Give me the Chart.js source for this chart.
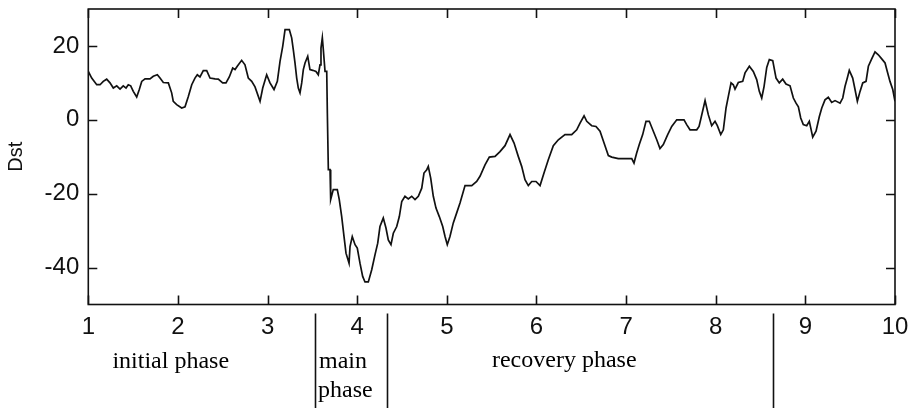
<!DOCTYPE html>
<html>
<head>
<meta charset="utf-8">
<script src="https://cdn.jsdelivr.net/npm/chart.js@4/dist/chart.umd.min.js"></script>
<style>
  html, body { margin: 0; padding: 0; background: #fff; }
  #wrap { width: 909px; height: 408px; }
</style>
</head>
<body>
<div id="wrap"><canvas id="dst" width="909" height="408"></canvas></div>
<script>
// Storm time axis (days) and Dst index values
const days = [
  1.000,1.038,1.094,1.131,1.167,1.205,1.242,1.279,1.317,1.354,
  1.390,1.421,1.446,1.473,1.502,1.540,1.569,1.596,1.633,1.688,
  1.725,1.770,1.800,1.837,1.893,1.930,1.948,1.986,2.042,2.079,
  2.116,2.154,2.190,2.216,2.246,2.283,2.321,2.358,2.414,2.450,
  2.499,2.536,2.573,2.611,2.637,2.662,2.711,2.748,2.785,2.823,
  2.860,2.916,2.946,2.990,3.027,3.072,3.109,3.139,3.169,3.195,
  3.243,3.269,3.287,3.306,3.325,3.343,3.362,3.381,3.399,3.418,
  3.448,3.473,3.504,3.540,3.566,3.585,3.596,3.611,3.622,3.641,
  3.660,3.667,3.678,3.697,3.704,3.733,3.778,3.800,3.827,3.853,
  3.875,3.909,3.920,3.945,3.976,4.001,4.031,4.061,4.087,4.124,
  4.162,4.199,4.229,4.254,4.291,4.321,4.347,4.377,4.403,4.441,
  4.470,4.497,4.533,4.570,4.608,4.645,4.682,4.720,4.745,4.776,
  4.793,4.820,4.849,4.879,4.916,4.954,4.980,5.005,5.035,5.072,
  5.110,5.147,5.203,5.278,5.333,5.370,5.426,5.474,5.538,5.593,
  5.649,5.705,5.750,5.797,5.835,5.872,5.909,5.947,5.995,6.040,
  6.084,6.132,6.188,6.244,6.318,6.393,6.449,6.486,6.531,6.561,
  6.616,6.664,6.709,6.754,6.802,6.840,6.913,6.988,7.063,7.088,
  7.118,7.147,7.185,7.222,7.259,7.297,7.342,7.378,7.415,7.464,
  7.509,7.565,7.646,7.676,7.713,7.788,7.814,7.836,7.881,7.917,
  7.955,7.992,8.018,8.056,8.085,8.115,8.140,8.171,8.196,8.215,
  8.252,8.301,8.327,8.375,8.419,8.457,8.486,8.513,8.539,8.569,
  8.598,8.636,8.673,8.709,8.747,8.784,8.829,8.866,8.896,8.922,
  8.948,8.977,9.015,9.044,9.060,9.082,9.119,9.156,9.183,9.219,
  9.256,9.294,9.331,9.387,9.417,9.442,9.468,9.490,9.528,9.554,
  9.580,9.610,9.640,9.677,9.703,9.740,9.777,9.814,9.852,9.889,
  9.914,9.944,9.975,10.000
];

const dstValues = [
  13.1,11.3,9.5,9.5,10.4,11,10,8.6,9.2,8.3,
  9.2,8.6,9.5,9.2,7.7,6.2,8.2,10.4,11.1,11.1,
  11.8,12.2,11.3,10.1,10,7.3,5,4.1,3.2,3.5,
  6.3,9.5,11.3,12.2,11.6,13.3,13.3,11.3,11.1,11,
  10,10,11.6,14,13.6,14.5,16.1,14.9,11.3,10.4,
  8.9,5,8.6,12.2,10,8.2,10.4,15.8,19.9,24.4,
  24.4,22.2,19,15.4,11.3,8.6,7.3,10,13.6,15.4,
  17.2,13.6,13.4,13.1,12.2,14.9,19.4,22.2,19,13.1,
  13.1,1.8,-13.5,-13.5,-21.6,-18.9,-18.9,-21.6,-26.2,-31.6,
  -36.1,-38.8,-34.3,-31.6,-33.8,-34.7,-38.8,-42.4,-43.9,-43.9,
  -40.6,-36.5,-33.4,-28.9,-26.6,-29.3,-32.5,-33.8,-30.7,-28.9,
  -26.2,-22.1,-20.7,-21.4,-20.7,-21.6,-20.7,-18.5,-14.4,-13.5,
  -12.6,-15.8,-20.7,-23.9,-26.2,-28.9,-31.6,-33.8,-31.6,-27.9,
  -25.2,-22.5,-17.8,-17.8,-16.7,-15.3,-12.2,-10.1,-9.9,-8.6,
  -7,-4,-6.3,-9.9,-12.6,-16.2,-17.8,-16.7,-16.7,-17.8,
  -14.4,-10.8,-7,-5.4,-4,-4,-2.7,-0.9,1.1,-0.4,
  -1.6,-1.8,-3.1,-6.3,-9.7,-10.1,-10.5,-10.5,-10.5,-11.7,
  -9,-6.7,-4,-0.4,-0.4,-2.7,-5.4,-7.8,-6.7,-4,
  -1.8,0,0,-1.3,-2.7,-2.7,-1.8,0.5,5.2,1.4,
  -1.6,-0.4,-1.6,-4,-2.7,3.2,6.3,10,9.5,8.3,
  10.1,10.4,12.7,14.5,13.1,10.9,7.7,5.9,9,14.2,
  16.3,16,11.3,10,11,9.7,9.2,5.9,4.5,3.5,
  0.5,-1.3,-1.6,-0.4,-2.2,-4.7,-3.1,0.9,3.2,5.4,
  6.1,4.7,5.2,4.5,5.9,9,11.3,13.4,11.3,8.2,
  5,7.7,10,10.4,14.5,16.5,18.4,17.6,16.5,15.4,
  13.1,10.4,8.2,5
];

// Axis ticks
const dayTicks = [1, 2, 3, 4, 5, 6, 7, 8, 9, 10];
const dstTicks = [-40, -20, 0, 20];

// Storm phases: boundaries (days) and their names
const phaseBounds = [3.529, 4.336, 8.642];
const phaseNames = ['initial phase', 'main phase', 'recovery phase'];

const points = days.map((d, i) => ({ x: d, y: dstValues[i] }));

const tickFont = { family: "'Liberation Sans', Arial, sans-serif", size: 24 };

// Boxed frame with inward tick marks, plus phase dividers and names under the axis
const frameAndPhases = {
  id: 'frameAndPhases',
  afterDraw(chart) {
    const { ctx, chartArea: a, scales: { x, y } } = chart;
    const TICK = 9;
    ctx.save();
    ctx.strokeStyle = '#111';
    ctx.lineWidth = 1.6;
    ctx.strokeRect(a.left, a.top, a.right - a.left, a.bottom - a.top);

    ctx.beginPath();
    x.ticks.forEach(t => {
      const px = Math.round(x.getPixelForValue(t.value)) + 0.5;
      ctx.moveTo(px, a.bottom); ctx.lineTo(px, a.bottom - TICK);
      ctx.moveTo(px, a.top); ctx.lineTo(px, a.top + TICK);
    });
    y.ticks.forEach(t => {
      const py = Math.round(y.getPixelForValue(t.value)) + 0.5;
      ctx.moveTo(a.left, py); ctx.lineTo(a.left + TICK, py);
      ctx.moveTo(a.right, py); ctx.lineTo(a.right - TICK, py);
    });
    ctx.stroke();

    // phase dividers
    ctx.beginPath();
    phaseBounds.forEach(b => {
      const px = Math.round(x.getPixelForValue(b)) + 0.5;
      ctx.moveTo(px, a.bottom + 9);
      ctx.lineTo(px, chart.height);
    });
    ctx.stroke();

    // phase names
    ctx.fillStyle = '#000';
    ctx.font = "24px 'Liberation Serif', 'Times New Roman', serif";
    ctx.textBaseline = 'alphabetic';
    const base = a.bottom + 63;

    // initial phase, under days 1.5-2.5
    ctx.textAlign = 'center';
    ctx.fillText(phaseNames[0], x.getPixelForValue(1.92), base);

    // main phase: narrow span, wrapped onto two lines next to the divider
    ctx.textAlign = 'left';
    const mainWords = phaseNames[1].split(' ');
    const mx = x.getPixelForValue(phaseBounds[0]) + 3;
    ctx.fillText(mainWords[0], mx + 1, base);
    ctx.fillText(mainWords[1], mx, base + 29);

    // recovery phase
    ctx.textAlign = 'center';
    ctx.fillText(phaseNames[2], x.getPixelForValue(6.31), base - 1);
    ctx.restore();
  }
};

new Chart(document.getElementById('dst'), {
  type: 'line',
  data: {
    datasets: [{
      data: points,
      borderColor: '#111',
      borderWidth: 1.7,
      pointRadius: 0,
      tension: 0,
      fill: false
    }]
  },
  options: {
    responsive: false,
    animation: false,
    events: [],
    layout: { padding: { left: 0, right: 14, top: 9, bottom: 0 } },
    plugins: { legend: { display: false }, tooltip: { enabled: false } },
    scales: {
      x: {
        type: 'linear',
        min: 1,
        max: 10,
        grid: { display: false, drawTicks: false },
        border: { display: false },
        ticks: { stepSize: 1, padding: 8, color: '#111', font: tickFont, maxRotation: 0 },
        afterBuildTicks(scale) { scale.ticks = dayTicks.map(v => ({ value: v })); },
        afterFit(scale) {
          scale.height = 103.5;
          scale.paddingLeft = 0; scale.paddingRight = 0;
        }
      },
      y: {
        min: -50,
        max: 30,
        grid: { display: false, drawTicks: false },
        border: { display: false },
        ticks: { padding: 9, color: '#111', font: tickFont },
        afterBuildTicks(scale) { scale.ticks = dstTicks.map(v => ({ value: v })); },
        afterFit(scale) {
          scale.width = 88.3;
          scale.paddingTop = 0; scale.paddingBottom = 0;
        },
        title: {
          display: true,
          text: 'Dst',
          color: '#111',
          font: { family: "'Liberation Sans', Arial, sans-serif", size: 20 },
          padding: { top: 4, bottom: 0 }
        }
      }
    }
  },
  plugins: [frameAndPhases]
});
</script>
</body>
</html>
